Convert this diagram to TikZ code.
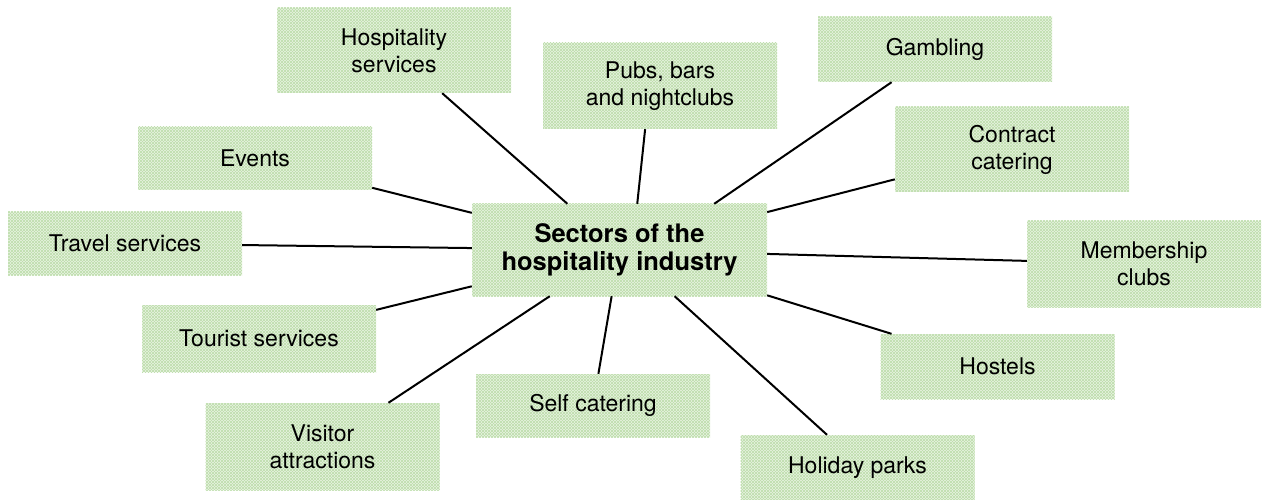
\documentclass[tikz,border=0pt]{standalone}
\usepackage{fontspec}
\setmainfont{TeX Gyre Heros}
\usetikzlibrary{patterns}
\definecolor{boxfill}{RGB}{232,243,225}
\definecolor{boxhatch}{RGB}{190,222,172}

\begin{document}
\begin{tikzpicture}[x=1pt, y=-1pt,
    sector/.style={rectangle, minimum width=234pt, inner sep=0pt, align=center,
        font=\fontsize{23}{27}\selectfont, fill=boxfill,
        postaction={pattern=north east lines, pattern color=boxhatch},
        postaction={pattern=north west lines, pattern color=boxhatch}},
    link/.style={line width=2pt}]
            \useasboundingbox (0,0) rectangle (1262,500);
            \node[sector, minimum width=295pt, minimum height=92pt,
                font=\fontsize{25.5}{28}\selectfont\bfseries] (hub) at (619.5,250) {Sectors of the\\hospitality industry};
            \node[sector, minimum height=85pt] (hosp) at (394,50.5) {Hospitality\\services};
            \node[sector, minimum height=86pt] (pubs) at (660,86) {Pubs, bars\\and nightclubs};
            \node[sector, minimum height=65pt] (gamb) at (935,49.5) {Gambling};
            \node[sector, minimum height=85pt] (contract) at (1012,149.5) {Contract\\catering};
            \node[sector, minimum height=63pt] (events) at (255,158.5) {Events};
            \node[sector, minimum height=63pt] (travel) at (125,243.5) {Travel services};
            \node[sector, minimum height=86pt] (member) at (1144,264) {Membership\\clubs};
            \node[sector, minimum height=67pt] (tourist) at (259,338.5) {Tourist services};
            \node[sector, minimum height=65pt] (hostels) at (997.5,366.5) {Hostels};
            \node[sector, minimum height=63pt] (self) at (593,405.5) {Self catering};
            \node[sector, minimum height=87pt] (visitor) at (322.5,446.5) {Visitor\\attractions};
            \node[sector, minimum height=65pt] (holiday) at (857.5,467.5) {Holiday parks};
            % spokes from the hub
            \foreach \s in {hosp,contract,events,travel,member,tourist,hostels,self,visitor}
                \draw[link] (hub) -- (\s);
            \draw[link] (hub.69) -- (pubs.251);
            \draw[link] (hub.26.4) -- (gamb.217);
            \draw[link] (hub.-40.7) -- (holiday.133);
        \end{tikzpicture}
\end{document}
